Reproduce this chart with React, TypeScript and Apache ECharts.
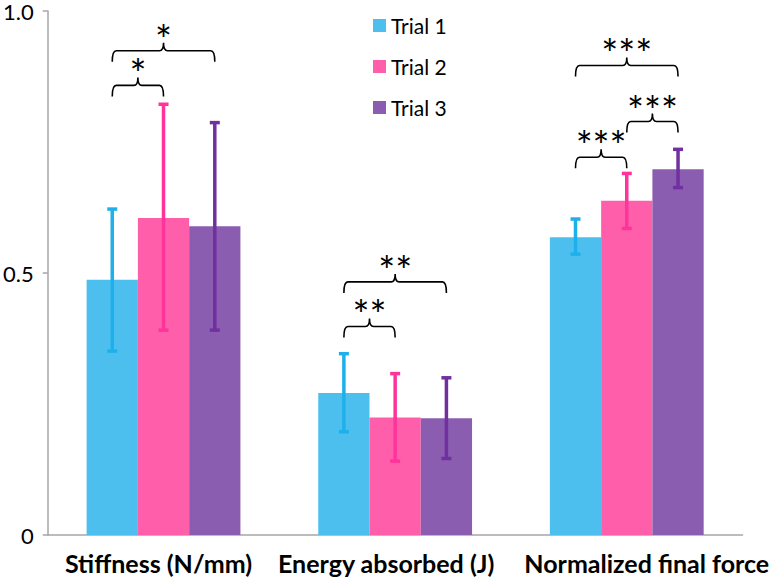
import React, { useEffect, useRef } from "react";
import * as echarts from "echarts";

const categories = ["Stiffness (N/mm)", "Energy absorbed (J)", "Normalized final force"];
const trialNames = ["Trial 1", "Trial 2", "Trial 3"];

const trial1 = [0.487, 0.271, 0.568];
const trial2 = [0.605, 0.224, 0.638];
const trial3 = [0.589, 0.223, 0.698];

const trial1Low = [0.351, 0.197, 0.536];
const trial1High = [0.622, 0.346, 0.603];
const trial2Low = [0.391, 0.141, 0.585];
const trial2High = [0.822, 0.308, 0.69];
const trial3Low = [0.391, 0.146, 0.663];
const trial3High = [0.787, 0.3, 0.736];

const yTicks = [0, 0.5, 1.0];

// significance brackets: category, from trial, to trial, level, label
const bracketCategory = [0, 0, 1, 1, 2, 2, 2];
const bracketFrom = [0, 0, 0, 0, 0, 1, 0];
const bracketTo = [1, 2, 1, 2, 1, 2, 2];
const bracketLevel = [0.858, 0.924, 0.398, 0.483, 0.721, 0.789, 0.896];
const bracketLabel = ["*", "*", "**", "**", "***", "***", "***"];

const barColors = ["#4DBFEF", "#FF5FAA", "#8B5DB0"];
const errColors = ["#1EB0EA", "#FF3399", "#7030A0"];
const CAT_GAP = 0.336;
const FONT = "Lato, 'Open Sans', sans-serif";
const labelPads = [
  [0, 10, 0, 0],
  [0, 18, 0, 0],
  [0, 0, 0, 40],
];

export default function App() {
  const ref = useRef<HTMLDivElement>(null);
  useEffect(() => {
    if (!ref.current) return;
    const chart = echarts.init(ref.current, undefined, { renderer: "svg" });
    const values = [trial1, trial2, trial3];
    const lows = [trial1Low, trial2Low, trial3Low];
    const highs = [trial1High, trial2High, trial3High];

    const barSeries = trialNames.map((name, i) => ({
      type: "bar",
      name,
      data: values[i],
      barGap: "0%",
      barCategoryGap: CAT_GAP * 100 + "%",
      itemStyle: { color: barColors[i] },
      z: 2,
    }));

    const errSeries = trialNames.map((name, i) => ({
      type: "custom",
      name: name + " error",
      data: categories.map((_, c) => [c, lows[i][c], highs[i][c]]),
      encode: { x: 0, y: [1, 2] },
      z: 3,
      silent: true,
      renderItem: (params: any, api: any) => {
        const cat = api.value(0);
        const bw = (api.size([1, 0])[0] * (1 - CAT_GAP)) / 3;
        const lo = api.coord([cat, api.value(1)]);
        const hi = api.coord([cat, api.value(2)]);
        const x = lo[0] + (i - 1) * bw;
        const cap = 5;
        const st = { stroke: errColors[i], lineWidth: 3.5 };
        return {
          type: "group",
          children: [
            { type: "line", shape: { x1: x, y1: lo[1], x2: x, y2: hi[1] }, style: st },
            { type: "line", shape: { x1: x - cap, y1: lo[1], x2: x + cap, y2: lo[1] }, style: st },
            { type: "line", shape: { x1: x - cap, y1: hi[1], x2: x + cap, y2: hi[1] }, style: st },
          ],
        };
      },
    }));

    const bracketSeries = {
      type: "custom",
      name: "significance",
      data: bracketCategory.map((c, k) => [c, bracketFrom[k], bracketTo[k], bracketLevel[k]]),
      encode: { x: 0, y: 3 },
      z: 4,
      silent: true,
      clip: false,
      renderItem: (params: any, api: any) => {
        const k = params.dataIndex;
        const cat = api.value(0);
        const bw = (api.size([1, 0])[0] * (1 - CAT_GAP)) / 3;
        const c = api.coord([cat, api.value(3)]);
        const x1 = c[0] + (api.value(1) - 1) * bw;
        const x2 = c[0] + (api.value(2) - 1) * bw;
        const y = c[1];
        const xm = (x1 + x2) / 2;
        const r = 4;
        const d = `M${x1} ${y + 11} Q${x1} ${y} ${x1 + r} ${y} L${xm - r} ${y} Q${xm} ${y} ${xm} ${y - 8} Q${xm} ${y} ${xm + r} ${y} L${x2 - r} ${y} Q${x2} ${y} ${x2} ${y + 11}`;
        return {
          type: "group",
          children: [
            { type: "path", shape: { pathData: d }, style: { stroke: "#000", lineWidth: 1.6, fill: "none" } },
            {
              type: "text",
              style: {
                text: bracketLabel[k],
                x: xm,
                y: y - 11,
                align: "center",
                verticalAlign: "middle",
                font: `40px ${FONT}`,
                lineHeight: 16,
                fill: "#000",
              },
            },
          ],
        };
      },
    };

    const rich: any = {};
    labelPads.forEach((p, c) => {
      rich["c" + c] = { fontFamily: FONT, fontSize: 25, fontWeight: "bold", color: "#000", padding: p };
    });

    chart.setOption({
      animation: false,
      grid: { left: 47, right: 29, top: 8, bottom: 42, containLabel: false },
      legend: {
        data: trialNames,
        orient: "vertical",
        left: 373,
        top: 15,
        padding: 0,
        itemWidth: 13,
        itemHeight: 13,
        itemGap: 20,
        icon: "rect",
        textStyle: { fontFamily: FONT, fontSize: 21, color: "#000", lineHeight: 21 },
      },
      xAxis: {
        type: "category",
        data: categories,
        axisLine: { lineStyle: { color: "#A6A6A6", width: 1.5 } },
        axisTick: { show: false },
        axisLabel: {
          margin: 15,
          interval: 0,
          formatter: (v: string) => `{c${categories.indexOf(v)}|${v}}`,
          rich,
        },
      },
      yAxis: {
        type: "value",
        min: 0,
        max: 1,
        interval: 0.5,
        splitLine: { show: false },
        axisLine: { show: true, lineStyle: { color: "#A6A6A6", width: 1.5 } },
        axisTick: { show: true, length: 5, lineStyle: { color: "#A6A6A6", width: 1.5 } },
        axisLabel: {
          fontFamily: FONT,
          fontSize: 22,
          lineHeight: 12,
          color: "#000",
          margin: 14,
          padding: [3, 0, 0, 0],
          formatter: (v: number) => {
            const t = yTicks.find((q) => Math.abs(q - v) < 1e-9);
            return t === 0 ? "0" : (t ?? v).toFixed(1);
          },
        },
      },
      series: [...barSeries, ...errSeries, bracketSeries],
    });
    return () => chart.dispose();
  }, []);
  return <div ref={ref} style={{ width: 772, height: 577, position: "absolute", left: 0, top: 0 }} />;
}
